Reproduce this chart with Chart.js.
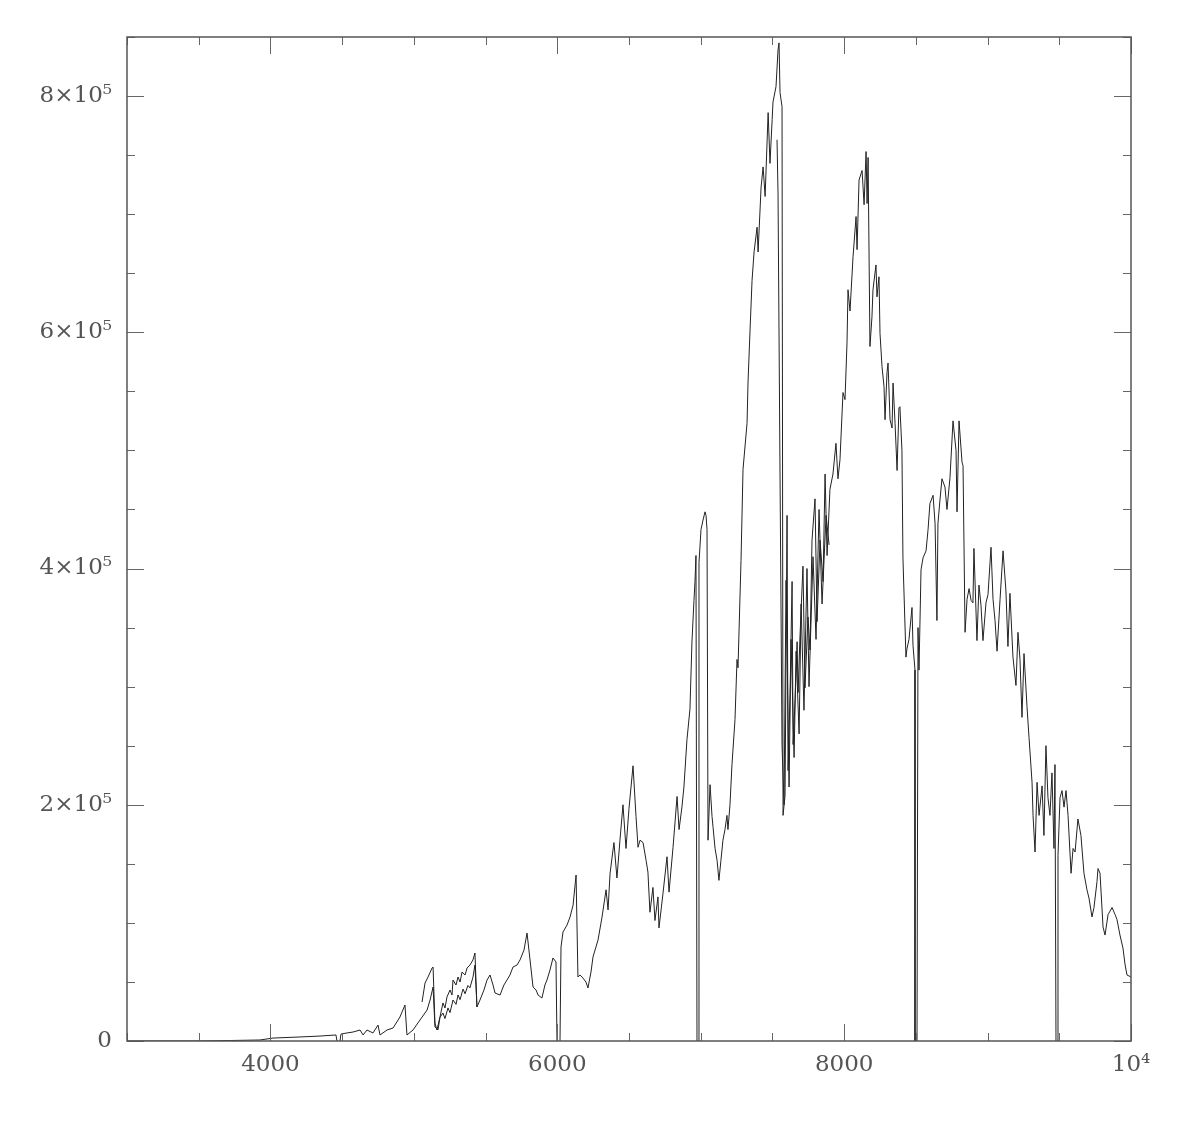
<!DOCTYPE html>
<html>
<head>
<meta charset="utf-8">
<title>Spectrum</title>
<script src="https://cdn.jsdelivr.net/npm/chart.js@4.4.1/dist/chart.umd.min.js"></script>
<style>
  html, body { margin: 0; padding: 0; background: #fff; }
  #wrap { width: 1199px; height: 1122px; }
</style>
</head>
<body>
<div id="wrap"><canvas id="spec" width="1199" height="1122"></canvas></div>
<script>
// spectral orders (wavelength, flux); each order ends at zero
const waveA = [3000, 3509, 3718, 3927, 4018, 4206, 4346, 4457, 4464];
const fluxA = [0, 0, 400, 850, 2500, 3400, 4200, 5100, 0];

const waveB = [4485, 4492, 4534, 4576, 4625, 4646, 4673, 4715, 4750, 4764, 4813, 4855, 4903, 4938, 4952, 4994, 5043, 5092, 5113, 5134, 5147, 5168, 5182, 5203, 5217, 5238, 5252, 5273, 5294, 5308, 5322, 5343, 5357, 5377, 5391, 5412, 5426, 5440];
const fluxB = [0, 5900, 6800, 7600, 9300, 5100, 9300, 6800, 13500, 5100, 9300, 11000, 20300, 30500, 5100, 9300, 17800, 26200, 34700, 45700, 11900, 9300, 20000, 23700, 19000, 28000, 24000, 34700, 31000, 39000, 35000, 44000, 40000, 47000, 45000, 54000, 64300, 28800];

const waveC = [5057, 5078, 5099, 5127, 5134, 5147, 5161, 5182, 5203, 5217, 5231, 5252, 5266, 5273, 5294, 5308, 5322, 5336, 5357, 5371, 5391, 5412, 5426, 5440, 5461, 5489, 5510, 5531, 5552, 5566, 5601, 5628, 5649, 5670, 5691, 5719, 5740, 5768, 5789, 5810, 5831, 5852, 5866, 5893, 5914, 5928, 5949, 5970, 5991, 5998];
const fluxC = [33000, 49100, 54200, 61800, 62600, 15200, 9300, 20300, 32200, 27900, 37300, 43200, 38900, 51600, 47400, 54200, 49900, 58400, 55900, 61800, 64300, 68600, 74500, 28800, 34700, 43200, 51600, 55900, 47400, 40600, 38900, 47400, 51600, 55900, 62600, 64300, 68600, 77000, 91400, 68600, 45700, 43200, 38900, 36400, 47400, 51600, 60100, 70300, 66900, 0];

const waveD = [6019, 6026, 6040, 6068, 6089, 6110, 6131, 6144, 6158, 6179, 6200, 6214, 6235, 6249, 6284, 6312, 6340, 6354, 6368, 6395, 6416, 6437, 6458, 6479, 6500, 6528, 6549, 6563, 6577, 6598, 6619, 6632, 6646, 6667, 6681, 6702, 6709, 6737, 6765, 6779, 6807, 6835, 6849, 6869, 6883, 6904, 6925, 6939, 6953, 6960, 6967, 6974];
const fluxD = [0, 79600, 92300, 98200, 105000, 115000, 140500, 54200, 55900, 53300, 49900, 44900, 58400, 71100, 85500, 105000, 128000, 111000, 142000, 168000, 138000, 170000, 200000, 163000, 197000, 233000, 190000, 164000, 170000, 168000, 153000, 143000, 109000, 130000, 102000, 122000, 95700, 125000, 156000, 126000, 164000, 207000, 179000, 198000, 215000, 255000, 281000, 338000, 373000, 389000, 411000, 0];

const waveE = [6988, 6988, 7002, 7016, 7030, 7037, 7044, 7051, 7065, 7079, 7086, 7100, 7114, 7127, 7141, 7155, 7169, 7183, 7190, 7204, 7218, 7239, 7253, 7260, 7281, 7295, 7323, 7330, 7344, 7358, 7372, 7393, 7400, 7421, 7435, 7449, 7470, 7483, 7498, 7504, 7525, 7539, 7546, 7553, 7567, 7574, 7588, 7602, 7609, 7623, 7637, 7644, 7658, 7672, 7679, 7692, 7713, 7727, 7748, 7762, 7776, 7797, 7811, 7832, 7853, 7867, 7881, 7901, 7922, 7943, 7957, 7971, 7992, 8006, 8020, 8027, 8041, 8062, 8083, 8090, 8104, 8125, 8139, 8153, 8160, 8167, 8180, 8194, 8201, 8222, 8229, 8243, 8250, 8264, 8278, 8285, 8299, 8306, 8320, 8334, 8341, 8355, 8369, 8382, 8389, 8403, 8410, 8417, 8431, 8438, 8452, 8473, 8480, 8494, 8494];
const fluxE = [0, 405000, 433000, 441000, 448000, 445000, 433000, 170000, 217000, 190000, 181000, 163000, 153000, 136000, 153000, 170000, 179000, 191000, 179000, 200000, 234000, 272000, 323000, 316000, 407000, 484000, 523000, 558000, 602000, 644000, 668000, 689000, 668000, 723000, 740000, 715000, 786000, 743000, 780000, 795000, 808000, 839000, 845000, 803000, 791000, 191000, 208000, 445000, 229000, 295000, 389000, 251000, 289000, 338000, 295000, 342000, 402000, 299000, 359000, 331000, 424000, 459000, 355000, 424000, 389000, 480000, 411000, 467000, 480000, 506000, 476000, 492000, 549000, 543000, 591000, 636000, 618000, 664000, 698000, 670000, 729000, 737000, 708000, 753000, 709000, 748000, 588000, 613000, 636000, 657000, 630000, 647000, 599000, 571000, 554000, 526000, 566000, 574000, 526000, 519000, 557000, 523000, 483000, 536000, 537000, 500000, 409000, 381000, 325000, 332000, 340000, 367000, 335000, 314000, 0];

// overlapping trace across the 7600 band
const waveE2 = [7532, 7539, 7553, 7567, 7581, 7595, 7616, 7630, 7651, 7665, 7686, 7700, 7720, 7741, 7755, 7783, 7804, 7825, 7846, 7874, 7895];
const fluxE2 = [763000, 718000, 480000, 250000, 200000, 390000, 215000, 340000, 240000, 330000, 260000, 370000, 280000, 400000, 300000, 410000, 340000, 450000, 370000, 445000, 420000];

const waveF = [8508, 8515, 8522, 8536, 8550, 8571, 8585, 8598, 8620, 8634, 8647, 8654, 8668, 8682, 8703, 8717, 8738, 8759, 8780, 8787, 8801, 8822, 8829, 8843, 8857, 8871, 8885, 8898, 8905, 8926, 8940, 8954, 8968, 8989, 9003, 9024, 9038, 9052, 9066, 9087, 9108, 9128, 9142, 9156, 9177, 9198, 9212, 9226, 9240, 9254, 9275, 9289, 9310, 9317, 9331, 9345, 9359, 9380, 9393, 9407, 9421, 9435, 9449, 9463, 9470, 9477];
const fluxF = [0, 350000, 314000, 399000, 409000, 415000, 433000, 455000, 462000, 438000, 356000, 438000, 458000, 476000, 469000, 450000, 477000, 525000, 500000, 448000, 525000, 490000, 487000, 346000, 374000, 383000, 373000, 371000, 417000, 339000, 386000, 369000, 339000, 371000, 378000, 418000, 374000, 356000, 330000, 374000, 415000, 381000, 334000, 379000, 325000, 301000, 346000, 323000, 274000, 328000, 283000, 257000, 219000, 191000, 160000, 219000, 191000, 216000, 174000, 250000, 206000, 191000, 227000, 163000, 234000, 0];

const waveG = [9491, 9491, 9505, 9519, 9533, 9547, 9561, 9582, 9596, 9610, 9630, 9651, 9672, 9693, 9707, 9728, 9742, 9763, 9770, 9784, 9805, 9819, 9840, 9868, 9889, 9902, 9923, 9944, 9958, 9972, 10000];
const fluxG = [0, 157000, 206000, 212000, 198000, 212000, 191000, 142000, 163000, 160000, 188000, 174000, 142000, 128000, 121000, 105000, 113000, 135000, 146000, 142000, 96500, 89700, 107000, 113000, 107000, 103000, 89700, 78700, 65200, 55900, 54200];

const xMajor = 2000, xMinor = 500;
const yMajor = 200000, yMinor = 50000;

const orders = [
  [waveA, fluxA], [waveB, fluxB], [waveC, fluxC], [waveD, fluxD],
  [waveE, fluxE], [waveE2, fluxE2], [waveF, fluxF], [waveG, fluxG],
];

function xLabel(v) {
  if (v === 10000) return '10\u2074';
  return (v % xMajor === 0 && v > 3000) ? String(v) : '';
}
function yLabel(v) {
  if (v === 0) return '0';
  return v % yMajor === 0 ? (v / 1e5) + '\u00d710\u2075' : '';
}

// ticks point inward on all four sides, like the original plot frame
const frameTicks = {
  id: 'frameTicks',
  afterDraw(chart) {
    const { ctx, chartArea: a, scales: { x, y } } = chart;
    ctx.save();
    ctx.strokeStyle = '#666';
    ctx.lineWidth = 1;
    ctx.beginPath();
    x.ticks.forEach((t) => {
      const px = Math.round(x.getPixelForValue(t.value)) + 0.5;
      const len = t.value % xMajor === 0 ? 17 : 8;
      ctx.moveTo(px, a.bottom); ctx.lineTo(px, a.bottom - len);
      ctx.moveTo(px, a.top); ctx.lineTo(px, a.top + len);
    });
    y.ticks.forEach((t) => {
      const py = Math.round(y.getPixelForValue(t.value)) + 0.5;
      const len = t.value % yMajor === 0 ? 17 : 8;
      ctx.moveTo(a.left, py); ctx.lineTo(a.left + len, py);
      ctx.moveTo(a.right, py); ctx.lineTo(a.right - len, py);
    });
    ctx.stroke();
    ctx.strokeStyle = '#555';
    ctx.lineWidth = 1.5;
    ctx.strokeRect(a.left, a.top, a.right - a.left, a.bottom - a.top);
    ctx.restore();
  },
};

const labelFont = { family: 'DejaVu Serif', size: 23 };

new Chart(document.getElementById('spec'), {
  type: 'line',
  data: {
    datasets: orders.map(([w, f]) => ({
      data: w.map((v, i) => ({ x: v, y: f[i] })),
      borderColor: '#222',
      borderWidth: 1,
      pointRadius: 0,
      tension: 0,
      fill: false,
    })),
  },
  options: {
    responsive: false,
    animation: false,
    devicePixelRatio: 1,
    layout: { padding: { top: 37, right: 68, left: 0, bottom: 0 } },
    plugins: { legend: { display: false }, tooltip: { enabled: false } },
    scales: {
      x: {
        type: 'linear',
        min: 3000,
        max: 10000,
        grid: { display: false, drawTicks: false },
        border: { display: false },
        ticks: { stepSize: xMinor, autoSkip: false, maxRotation: 0, padding: 10, color: '#555', font: labelFont, callback: xLabel },
        afterFit: (s) => { s.height = 81; },
      },
      y: {
        min: 0,
        max: 850000,
        grid: { display: false, drawTicks: false },
        border: { display: false },
        ticks: { stepSize: yMinor, autoSkip: false, padding: 15, color: '#555', font: labelFont, callback: yLabel },
        afterFit: (s) => { s.width = 127; },
      },
    },
  },
  plugins: [frameTicks],
});
</script>
</body>
</html>
